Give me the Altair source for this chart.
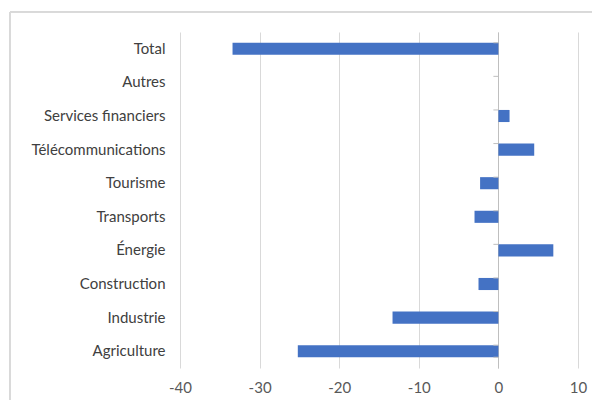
import altair as alt
import pandas as pd

categories = ["Total", "Autres", "Services financiers", "Télécommunications", "Tourisme",
              "Transports", "Énergie", "Construction", "Industrie", "Agriculture"]
values = [-33.4, 0.0, 1.4, 4.5, -2.3, -3.0, 6.9, -2.5, -13.3, -25.2]
x_ticks = [-40, -30, -20, -10, 0, 10]

df = pd.DataFrame({"cat": categories, "val": values})
df_last = pd.DataFrame({"cat": [categories[-1]]})

FONT = "Lato"
AXIS_GREY = "#bfbfbf"

yscale = alt.Scale(domain=categories, paddingInner=0.64, paddingOuter=0.32)
xscale = alt.Scale(domain=[-40, 10], nice=False)

xaxis = alt.Axis(title=None, values=x_ticks, grid=True, gridColor="#d9d9d9",
                 domain=False, ticks=False, tickSize=0, labelPadding=12, labelFlush=False,
                 labelExpr="'' + datum.value",
                 labelFont=FONT, labelFontSize=15, labelColor="#595959")

bars = alt.Chart(df).mark_bar(color="#4472C4").encode(
    x=alt.X("val:Q", scale=xscale, axis=xaxis),
    y=alt.Y("cat:N", scale=yscale, sort=categories,
            axis=alt.Axis(title=None, domain=False, ticks=False, tickSize=0, labelPadding=15,
                          labelFont=FONT, labelFontSize=15, labelColor="#404040")),
    x2=alt.datum(0),
)

zero_axis = alt.Chart(df).mark_point(opacity=0).encode(
    x=alt.X("val:Q", scale=xscale, axis=xaxis),
    y=alt.Y("cat:N", scale=yscale, sort=categories,
            axis=alt.Axis(title=None, orient="left", offset=-318, labels=False,
                          domain=True, domainColor=AXIS_GREY, domainWidth=1,
                          ticks=False, grid=False)),
)

ticks_top = alt.Chart(df).mark_rule(color=AXIS_GREY, strokeWidth=1, x2Offset=-5).encode(
    y=alt.Y("cat:N", scale=yscale, sort=categories, bandPosition=0, axis=None),
    x=alt.datum(0, scale=xscale),
    x2=alt.datum(0),
)
ticks_bottom = alt.Chart(df_last).mark_rule(color=AXIS_GREY, strokeWidth=1, x2Offset=-5).encode(
    y=alt.Y("cat:N", scale=yscale, sort=categories, bandPosition=1, axis=None),
    x=alt.datum(0, scale=xscale),
    x2=alt.datum(0),
)

border = alt.Chart(df).mark_rect(fillOpacity=0, stroke="#d9d9d9", strokeWidth=1).encode(
    x=alt.value(-170), x2=alt.value(600), y=alt.value(-20), y2=alt.value(420)
)

chart = alt.layer(border, bars, ticks_top, ticks_bottom, zero_axis).resolve_axis(y="independent").properties(
    width=398, height=336,
    autosize=alt.AutoSizeParams(type="none"),
    padding={"left": 180, "top": 32, "right": 14, "bottom": 32},
    background="white",
).configure_view(stroke=None)

chart.save("out.html", embed_options={"renderer": "svg", "actions": False})
